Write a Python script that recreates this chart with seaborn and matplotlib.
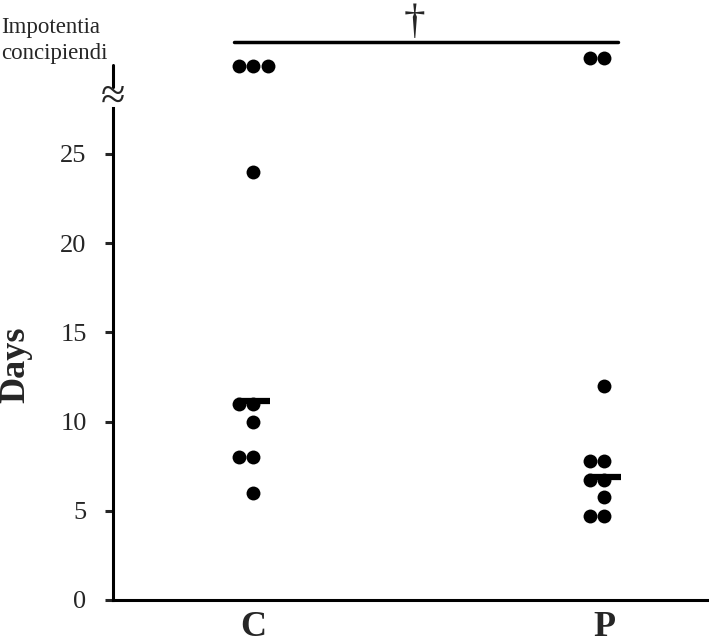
import numpy as np
import pandas as pd
import matplotlib
matplotlib.use("Agg")
import matplotlib.pyplot as plt
import seaborn as sns

sns.set_style("white")
plt.rcParams["font.family"] = ["Liberation Serif", "DejaVu Serif"]

# ── data ─────────────────────────────────────────────────────────────────────
GROUPS = ["C", "P"]
days_c = [6, 8, 8, 10, 11, 11, 24]
days_p = [4.7, 4.7, 5.8, 6.7, 6.7, 7.8, 7.8, 12]
ic_count = [3, 2]          # animals with impotentia concipiendi
ic_level = [29.9, 30.4]    # where those dots sit above the axis break
medians = [11.15, 6.9]
y_ticks = [0, 5, 10, 15, 20, 25]

rows = [("C", v) for v in days_c] + [("P", v) for v in days_p]
for g, n, lvl in zip(GROUPS, ic_count, ic_level):
    rows += [(g, lvl)] * n
df = pd.DataFrame(rows, columns=["group", "days"])

fig = plt.figure(figsize=(7.09, 6.44), dpi=100)
ax = fig.add_axes([113 / 709, 1 - 600 / 644, 595 / 709, 546 / 644])

sns.swarmplot(data=df, x="group", y="days", order=GROUPS, color="black",
              size=10, ax=ax, zorder=3)
for coll in ax.collections:
    coll.set_clip_on(False)

ax.hlines(medians, np.arange(len(GROUPS)) - 0.048, np.arange(len(GROUPS)) + 0.048,
          color="black", lw=4.5, zorder=4)

ax.set_xlim(-0.4, 1.295)
ax.set_ylim(0, 30.6)
ax.set_yticks(y_ticks)
ax.set_yticklabels([str(t) for t in y_ticks], fontsize=19)
ax.set_xticks(range(len(GROUPS)))
ax.set_xticklabels(GROUPS, fontsize=26, fontweight="bold")
ax.tick_params(axis="y", direction="out", length=6, width=2.2, pad=13, left=True)
ax.tick_params(axis="x", length=0, pad=8)
ax.set_xlabel("")
ax.set_ylabel("Days", fontsize=26, fontweight="bold")
ax.yaxis.set_label_coords(-0.135, 0.43)

for s in ["top", "right"]:
    ax.spines[s].set_visible(False)
for s in ["left", "bottom"]:
    ax.spines[s].set_linewidth(2.2)
    ax.spines[s].set_color("black")
ax.spines["left"].set_bounds(0, 27.6)

# axis break
ytr = ax.get_yaxis_transform()
ax.plot([0, 0], [28.75, 30.0], color="black", lw=2.2, transform=ytr, clip_on=False)
ax.text(0, 28.15, "≈", transform=ytr, ha="center", va="center", fontsize=32,
        clip_on=False)

# significance bar
ax.plot([-0.054, 1.04], [31.25, 31.25], color="black", lw=2.5, clip_on=False)
ax.text(0.46, 31.3, "†", ha="center", va="bottom", fontsize=31, clip_on=False)

fig.text(0.002, 1 - 17 / 644, "Impotentia\nconcipiendi", ha="left", va="top",
         fontsize=16.5, linespacing=1.3)

fig.savefig("out.png", dpi=100)
